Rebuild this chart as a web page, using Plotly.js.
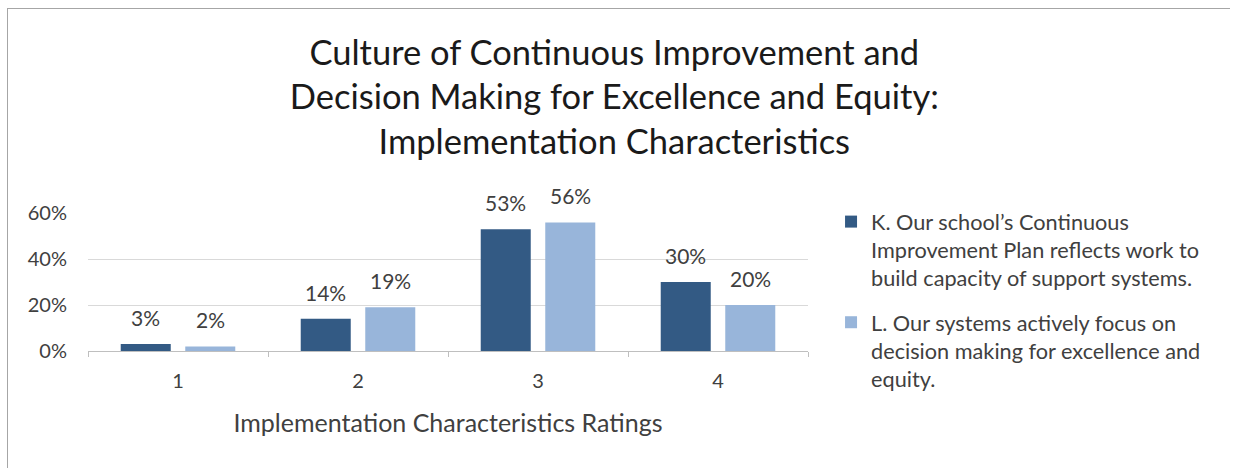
<!DOCTYPE html>
<html>
<head>
<meta charset="utf-8">
<script src="https://cdn.plot.ly/plotly-3.0.1.min.js"></script>
<style>
  html, body { margin: 0; padding: 0; background: #fff; }
  #wrap { position: relative; width: 1236px; height: 468px; overflow: hidden; }
  #chart { position: absolute; left: 0; top: 0; width: 1236px; height: 468px; }
  #frame { position: absolute; left: 7px; top: 8px; width: 1222px; height: 470px;
           border-left: 1px solid #a6a6a6; border-top: 1px solid #a6a6a6; pointer-events: none; }
</style>
</head>
<body>
<div id="wrap"><div id="chart"></div><div id="frame"></div></div>
<script>
const categories = ['1', '2', '3', '4'];
const seriesNames = [
  'K. Our school\u2019s Continuous<br>Improvement Plan reflects work to<br>build capacity of support systems.',
  'L. Our systems actively focus on<br>decision making for excellence and<br>equity.'
];
const seriesK = [0.03, 0.14, 0.53, 0.30];
const seriesL = [0.02, 0.19, 0.56, 0.20];
const yTickVals = [0, 0.2, 0.4, 0.6];
const yTickText = ['0%', '20%', '40%', '60%'];
const titleLines = ['Culture of Continuous Improvement and', 'Decision Making for Excellence and Equity:', 'Implementation Characteristics'];
const xTitle = 'Implementation Characteristics Ratings';

const FONT = 'Lato, "Open Sans", sans-serif';
const colors = ['#335a84', '#98b5da'];
const bargap = 0.283, bargroupgap = 0.225;

const traces = [seriesK, seriesL].map((vals, i) => ({
  type: 'bar', x: categories, y: vals, name: seriesNames[i],
  legendgroup: 'g' + i,
  marker: { color: colors[i] }, hoverinfo: 'none'
}));

// data labels above bars (x given as category index)
const catPx = 720 / categories.length;
const slotPx = catPx * (1 - bargap) / 2;
const annotations = [];
[seriesK, seriesL].forEach((vals, i) => {
  vals.forEach((v, j) => {
    annotations.push({
      x: j, y: v, xref: 'x', yref: 'y',
      text: Math.round(v * 100) + '%', showarrow: false,
      xanchor: 'center', yanchor: 'bottom',
      xshift: (i === 0 ? -1 : 1) * slotPx / 2, yshift: 12,
      font: { family: FONT, size: 21, color: '#404040' }
    });
  });
});

const layout = {
  width: 1236, height: 468,
  margin: { l: 88, r: 428, t: 213, b: 117 },
  paper_bgcolor: '#ffffff', plot_bgcolor: '#ffffff',
  barmode: 'group', bargap: bargap, bargroupgap: bargroupgap,
  title: {
    text: titleLines.join('<br>'),
    font: { family: FONT, size: 34.5, color: '#1a1a1a' },
    x: 0.497, xanchor: 'center', xref: 'container',
    y: 0.862, yanchor: 'middle', yref: 'container'
  },
  xaxis: {
    type: 'category', tickson: 'boundaries', ticks: 'outside', ticklen: 5,
    tickcolor: '#bfbfbf', showline: true, linecolor: '#bfbfbf', linewidth: 1,
    showgrid: false, tickfont: { family: FONT, size: 20, color: '#404040' },
    ticklabelstandoff: 12, range: [-0.5, 3.5],
    title: { text: xTitle, font: { family: FONT, size: 25, color: '#404040' }, standoff: 23 },
    fixedrange: true
  },
  yaxis: {
    range: [0, 0.601], tickvals: yTickVals, ticktext: yTickText,
    showgrid: true, gridcolor: '#d9d9d9', gridwidth: 1, zeroline: false,
    showline: false, ticks: '', tickfont: { family: FONT, size: 20, color: '#404040' },
    ticklabelstandoff: 20, fixedrange: true
  },
  legend: {
    x: 1.032, xanchor: 'left', y: 1.087, yanchor: 'top',
    valign: 'top', tracegroupgap: 13, itemclick: false, itemdoubleclick: false,
    font: { family: FONT, size: 21.7, color: '#404040' }, bgcolor: 'rgba(0,0,0,0)'
  },
  showlegend: true,
  annotations: annotations
};

Plotly.newPlot('chart', traces, layout, { displayModeBar: false, staticPlot: true });
</script>
</body>
</html>
